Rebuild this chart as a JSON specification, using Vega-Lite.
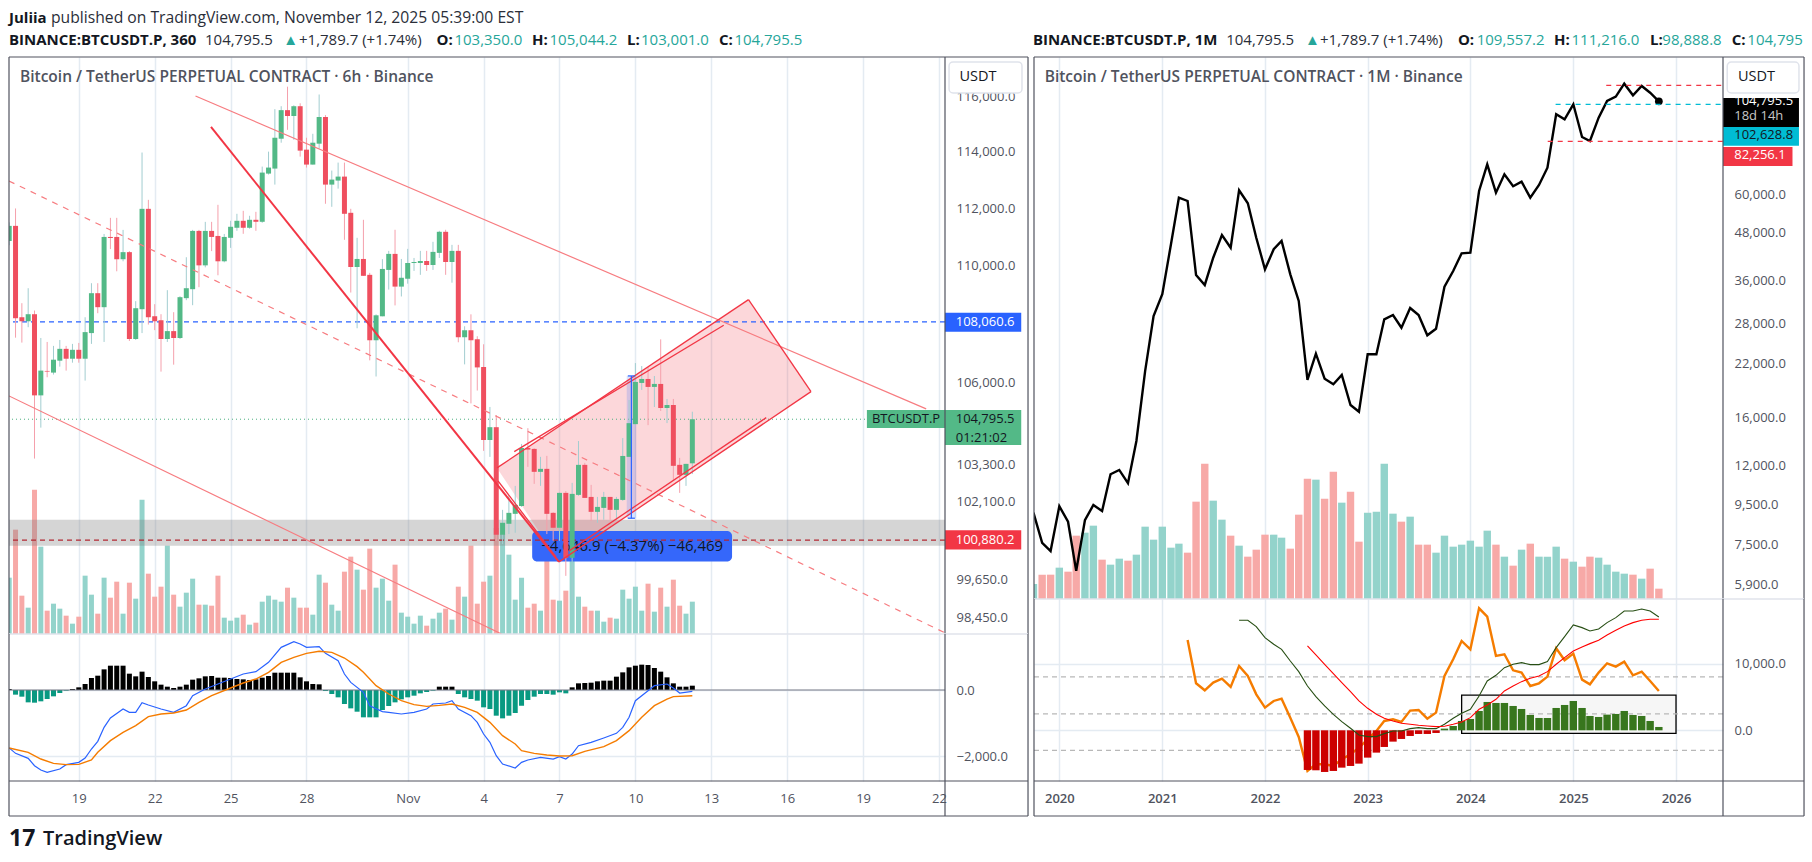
{
"$schema":"https://vega.github.io/schema/vega-lite/v6.json",
"background":"white",
"padding":0,
"bounds":"flush",
"spacing":1025,
"config":{"view":{"stroke":null},"font":"Open Sans","text":{"font":"Open Sans"},
"axis":{"domain":false,"ticks":false,"title":null,"gridColor":"#e4ebf2","gridWidth":1.5,"labelColor":"#50535e","labelFontSize":13,"labelOverlap":false,"labelBound":false,"labelFlush":false,"labelPadding":11}},
"datasets":{
"candles":[
{"t":"2025-10-16T06:00Z","o":110848,"h":111500,"l":110700,"c":111377,"v":169,"d":30,"m":-1757,"s":-1757},
{"t":"2025-10-16T12:00Z","o":111377,"h":111990,"l":107523,"c":108183,"v":313,"d":-141,"m":-1919},
{"t":"2025-10-16T18:00Z","o":108217,"h":108697,"l":107356,"c":108080,"v":115,"d":-202},
{"t":"2025-10-17T00:00Z","o":108080,"h":109211,"l":107878,"c":108320,"v":79,"d":-374,"m":-2070,"s":-1889},
{"t":"2025-10-17T06:00Z","o":108320,"h":108446,"l":103504,"c":105586,"v":433,"d":-384,"m":-2293},
{"t":"2025-10-17T12:00Z","o":105586,"h":107512,"l":104518,"c":106413,"v":262,"d":-343,"m":-2424,"s":-2091},
{"t":"2025-10-17T18:00Z","o":106402,"h":107378,"l":106190,"c":106380,"v":70,"d":-273,"m":-2495},
{"t":"2025-10-18T00:00Z","o":106346,"h":107245,"l":106280,"c":106779,"v":91,"d":-192,"s":-2222},
{"t":"2025-10-18T06:00Z","o":106746,"h":107445,"l":106546,"c":107145,"v":76,"d":-91,"m":-2394},
{"t":"2025-10-18T12:00Z","o":107145,"h":107245,"l":106413,"c":106812,"v":55,"d":-20,"m":-2262,"s":-2262},
{"t":"2025-10-18T18:00Z","o":106812,"h":107312,"l":106679,"c":107112,"v":31,"d":30},
{"t":"2025-10-19T00:00Z","o":107112,"h":107345,"l":106679,"c":106812,"v":52,"d":81,"m":-2192,"s":-2252},
{"t":"2025-10-19T06:00Z","o":106812,"h":108217,"l":106079,"c":107711,"v":175,"d":182,"m":-2060},
{"t":"2025-10-19T12:00Z","o":107678,"h":109383,"l":107312,"c":109040,"v":118,"d":364,"m":-1788,"s":-2121},
{"t":"2025-10-19T18:00Z","o":109040,"h":109383,"l":108354,"c":108560,"v":61,"d":434,"m":-1555,"s":-1889},
{"t":"2025-10-20T00:00Z","o":108560,"h":111094,"l":107378,"c":110989,"v":169,"d":626,"m":-1131},
{"t":"2025-10-20T06:00Z","o":110989,"h":111659,"l":110565,"c":110953,"v":109,"d":737,"m":-848,"s":-1535},
{"t":"2025-10-20T12:00Z","o":110989,"h":111659,"l":109794,"c":110212,"v":157,"d":737},
{"t":"2025-10-20T18:00Z","o":110212,"h":111236,"l":110141,"c":110459,"v":61,"d":737,"m":-576,"s":-1283},
{"t":"2025-10-21T00:00Z","o":110459,"h":110495,"l":107412,"c":107478,"v":154,"d":495,"m":-677},
{"t":"2025-10-21T06:00Z","o":107478,"h":108766,"l":107445,"c":108525,"v":106,"d":414,"m":-677,"s":-1081},
{"t":"2025-10-21T12:00Z","o":108491,"h":113980,"l":107678,"c":111976,"v":403,"d":556,"m":-384},
{"t":"2025-10-21T18:00Z","o":111976,"h":112294,"l":107967,"c":108217,"v":181,"d":394,"m":-455,"s":-808},
{"t":"2025-10-22T00:00Z","o":108251,"h":108663,"l":107778,"c":108080,"v":112,"d":263},
{"t":"2025-10-22T06:00Z","o":108114,"h":108320,"l":106379,"c":107478,"v":142,"d":162,"m":-576,"s":-727},
{"t":"2025-10-22T12:00Z","o":107478,"h":109143,"l":107378,"c":107745,"v":265,"d":101},
{"t":"2025-10-22T18:00Z","o":107745,"h":108389,"l":106612,"c":107512,"v":118,"d":61,"m":-677,"s":-697},
{"t":"2025-10-23T00:00Z","o":107512,"h":108937,"l":107478,"c":108903,"v":82,"d":101},
{"t":"2025-10-23T06:00Z","o":108869,"h":110282,"l":108800,"c":109211,"v":124,"d":162,"m":-475,"s":-606},
{"t":"2025-10-23T12:00Z","o":109177,"h":111236,"l":108628,"c":111200,"v":166,"d":313,"m":-172},
{"t":"2025-10-23T18:00Z","o":111200,"h":111236,"l":109246,"c":110000,"v":88,"d":354,"s":-374},
{"t":"2025-10-24T00:00Z","o":110000,"h":111518,"l":109931,"c":111200,"v":88,"d":414,"m":30},
{"t":"2025-10-24T06:00Z","o":111200,"h":111518,"l":110495,"c":110989,"v":85,"d":424,"s":-172},
{"t":"2025-10-24T12:00Z","o":111024,"h":112118,"l":109657,"c":110141,"v":175,"d":374,"m":182},
{"t":"2025-10-24T18:00Z","o":110141,"h":111094,"l":110106,"c":110989,"v":49,"d":374},
{"t":"2025-10-25T00:00Z","o":110959,"h":111555,"l":110608,"c":111345,"v":40,"d":364,"m":333,"s":61},
{"t":"2025-10-25T06:00Z","o":111310,"h":111801,"l":111204,"c":111555,"v":49,"d":333},
{"t":"2025-10-25T12:00Z","o":111555,"h":111906,"l":111099,"c":111310,"v":58,"d":323,"m":485,"s":212},
{"t":"2025-10-25T18:00Z","o":111310,"h":111731,"l":111275,"c":111590,"v":28,"d":303},
{"t":"2025-10-26T00:00Z","o":111590,"h":111871,"l":111204,"c":111520,"v":34,"d":323,"m":556,"s":333},
{"t":"2025-10-26T06:00Z","o":111520,"h":113476,"l":111485,"c":113262,"v":97,"d":374},
{"t":"2025-10-26T12:00Z","o":113226,"h":114012,"l":113190,"c":113441,"v":115,"d":424,"m":838,"s":535},
{"t":"2025-10-26T18:00Z","o":113405,"h":115548,"l":112834,"c":114512,"v":103,"d":525},
{"t":"2025-10-27T00:00Z","o":114477,"h":115655,"l":114333,"c":115512,"v":97,"d":525,"m":1293,"s":838},
{"t":"2025-10-27T06:00Z","o":115512,"h":116369,"l":114798,"c":115298,"v":139,"d":525},
{"t":"2025-10-27T12:00Z","o":115298,"h":115690,"l":114440,"c":115655,"v":109,"d":525,"m":1465,"s":990},
{"t":"2025-10-27T18:00Z","o":115655,"h":115762,"l":113833,"c":114048,"v":79,"d":384,"m":1394},
{"t":"2025-10-28T00:00Z","o":114083,"h":114512,"l":113441,"c":113548,"v":79,"d":263,"m":1293,"s":1111},
{"t":"2025-10-28T06:00Z","o":113548,"h":114655,"l":113548,"c":114333,"v":58,"d":182},
{"t":"2025-10-28T12:00Z","o":114298,"h":116083,"l":114119,"c":115262,"v":178,"d":172,"m":1313,"s":1172},
{"t":"2025-10-28T18:00Z","o":115262,"h":115333,"l":112155,"c":112834,"v":154,"d":-30,"m":1111},
{"t":"2025-10-29T00:00Z","o":112834,"h":113334,"l":112048,"c":113012,"v":88,"d":-121,"s":1141},
{"t":"2025-10-29T06:00Z","o":112977,"h":113619,"l":112691,"c":113119,"v":70,"d":-222,"m":889},
{"t":"2025-10-29T12:00Z","o":113119,"h":113619,"l":110888,"c":111801,"v":187,"d":-424,"m":485,"s":970},
{"t":"2025-10-29T18:00Z","o":111836,"h":111977,"l":109062,"c":109943,"v":232,"d":-556,"m":232},
{"t":"2025-10-30T00:00Z","o":109943,"h":110959,"l":107842,"c":110222,"v":193,"d":-657,"s":707},
{"t":"2025-10-30T06:00Z","o":110222,"h":111590,"l":109638,"c":109638,"v":133,"d":-828,"m":-71,"s":535},
{"t":"2025-10-30T12:00Z","o":109672,"h":109740,"l":106757,"c":107435,"v":256,"d":-828,"m":-475},
{"t":"2025-10-30T18:00Z","o":107435,"h":108316,"l":106215,"c":108283,"v":139,"d":-828,"s":131},
{"t":"2025-10-31T00:00Z","o":108249,"h":110215,"l":108249,"c":109876,"v":166,"d":-606,"m":-656},
{"t":"2025-10-31T06:00Z","o":109842,"h":110503,"l":109164,"c":110398,"v":100,"d":-485,"m":-677,"s":-121},
{"t":"2025-10-31T12:00Z","o":110398,"h":111240,"l":108621,"c":109266,"v":208,"d":-374},
{"t":"2025-10-31T18:00Z","o":109266,"h":110222,"l":108927,"c":109571,"v":64,"d":-283,"m":-727,"s":-323},
{"t":"2025-11-01T00:00Z","o":109537,"h":110573,"l":109367,"c":110082,"v":52,"d":-222},
{"t":"2025-11-01T06:00Z","o":110082,"h":110257,"l":109808,"c":110117,"v":31,"d":-172,"m":-677,"s":-444},
{"t":"2025-11-01T12:00Z","o":110082,"h":110503,"l":109672,"c":110152,"v":55,"d":-101},
{"t":"2025-11-01T18:00Z","o":110152,"h":110503,"l":109808,"c":110012,"v":25,"d":-61,"m":-576,"s":-495},
{"t":"2025-11-02T00:00Z","o":110012,"h":110819,"l":109842,"c":110468,"v":46,"d":-20,"m":-424},
{"t":"2025-11-02T06:00Z","o":110433,"h":111204,"l":110257,"c":111169,"v":64,"d":101,"s":-465},
{"t":"2025-11-02T12:00Z","o":111169,"h":111240,"l":109672,"c":110117,"v":76,"d":101,"m":-394},
{"t":"2025-11-02T18:00Z","o":110117,"h":110713,"l":109401,"c":110503,"v":43,"d":101,"m":-323,"s":-424},
{"t":"2025-11-03T00:00Z","o":110503,"h":110713,"l":107367,"c":107537,"v":142,"d":-121,"m":-576},
{"t":"2025-11-03T06:00Z","o":107537,"h":107910,"l":106622,"c":107774,"v":112,"d":-222,"s":-525},
{"t":"2025-11-03T12:00Z","o":107774,"h":108316,"l":105318,"c":107435,"v":265,"d":-273,"m":-778},
{"t":"2025-11-03T18:00Z","o":107469,"h":107571,"l":105747,"c":106520,"v":91,"d":-323,"m":-980,"s":-677},
{"t":"2025-11-04T00:00Z","o":106533,"h":107299,"l":103755,"c":104111,"v":157,"d":-525,"m":-1333},
{"t":"2025-11-04T06:00Z","o":104111,"h":105201,"l":103559,"c":104533,"v":175,"d":-576,"m":-1586,"s":-980},
{"t":"2025-11-04T12:00Z","o":104533,"h":104934,"l":100860,"c":101051,"v":318,"d":-778,"m":-1990},
{"t":"2025-11-04T18:00Z","o":101051,"h":101846,"l":100754,"c":101432,"v":300,"d":-859,"m":-2242,"s":-1384},
{"t":"2025-11-05T00:00Z","o":101400,"h":102327,"l":101072,"c":101750,"v":238,"d":-778},
{"t":"2025-11-05T06:00Z","o":101718,"h":102618,"l":101114,"c":102005,"v":103,"d":-697,"m":-2363,"s":-1636},
{"t":"2025-11-05T12:00Z","o":101973,"h":103982,"l":101941,"c":103852,"v":169,"d":-475,"m":-2192,"s":-1838},
{"t":"2025-11-05T18:00Z","o":103852,"h":104500,"l":103235,"c":103798,"v":79,"d":-303,"m":-2121},
{"t":"2025-11-06T00:00Z","o":103820,"h":103840,"l":102683,"c":103073,"v":91,"d":-202,"s":-1919},
{"t":"2025-11-06T06:00Z","o":103073,"h":103560,"l":102618,"c":103170,"v":70,"d":-121,"m":-2040},
{"t":"2025-11-06T12:00Z","o":103170,"h":103593,"l":101072,"c":101718,"v":255,"d":-121,"s":-1970},
{"t":"2025-11-06T18:00Z","o":101750,"h":101770,"l":100860,"c":101273,"v":103,"d":-141,"m":-2091},
{"t":"2025-11-07T00:00Z","o":101273,"h":102400,"l":100860,"c":102392,"v":100,"d":-71,"m":-2020,"s":-2000},
{"t":"2025-11-07T06:00Z","o":102392,"h":102450,"l":99750,"c":100319,"v":130,"d":-101,"m":-2091},
{"t":"2025-11-07T12:00Z","o":100319,"h":102716,"l":98950,"c":102360,"v":225,"d":81,"m":-1939,"s":-1990},
{"t":"2025-11-07T18:00Z","o":102327,"h":104078,"l":102295,"c":103300,"v":112,"d":202,"m":-1687},
{"t":"2025-11-08T00:00Z","o":103300,"h":103365,"l":102230,"c":102230,"v":82,"d":212,"s":-1858},
{"t":"2025-11-08T06:00Z","o":102262,"h":102651,"l":101496,"c":101782,"v":70,"d":222,"m":-1586},
{"t":"2025-11-08T12:00Z","o":101782,"h":102262,"l":101432,"c":101941,"v":70,"d":263},
{"t":"2025-11-08T18:00Z","o":101909,"h":102424,"l":101528,"c":102262,"v":37,"d":283,"m":-1454,"s":-1717},
{"t":"2025-11-09T00:00Z","o":102262,"h":102262,"l":101528,"c":101846,"v":49,"d":283},
{"t":"2025-11-09T06:00Z","o":101846,"h":102262,"l":101528,"c":102197,"v":46,"d":404,"m":-1313,"s":-1535},
{"t":"2025-11-09T12:00Z","o":102165,"h":104176,"l":102133,"c":103590,"v":133,"d":535,"m":-1131},
{"t":"2025-11-09T18:00Z","o":103560,"h":105433,"l":103560,"c":104666,"v":106,"d":687,"m":-828,"s":-1232},
{"t":"2025-11-10T00:00Z","o":104633,"h":106666,"l":104622,"c":106033,"v":142,"d":737,"m":-323},
{"t":"2025-11-10T06:00Z","o":106000,"h":106566,"l":105767,"c":106133,"v":70,"d":768,"s":-828},
{"t":"2025-11-10T12:00Z","o":106133,"h":106533,"l":104600,"c":105867,"v":151,"d":758,"m":-20},
{"t":"2025-11-10T18:00Z","o":105867,"h":106233,"l":105200,"c":105967,"v":67,"d":667,"m":131,"s":-475},
{"t":"2025-11-11T00:00Z","o":105967,"h":107465,"l":105068,"c":105167,"v":139,"d":556},
{"t":"2025-11-11T06:00Z","o":105167,"h":105467,"l":104668,"c":105267,"v":82,"d":384,"m":182,"s":-273},
{"t":"2025-11-11T12:00Z","o":105267,"h":105467,"l":102782,"c":103268,"v":163,"d":202,"m":61,"s":-202},
{"t":"2025-11-11T18:00Z","o":103300,"h":103528,"l":102392,"c":102976,"v":85,"d":101,"m":-91},
{"t":"2025-11-12T00:00Z","o":102976,"h":103332,"l":102618,"c":103332,"v":61,"d":101},
{"t":"2025-11-12T06:00Z","o":103350,"h":105044,"l":103001,"c":104795.5,"v":97,"d":131,"m":-40,"s":-172}
],
"monthly":[
{"t":"2019-10-01","c":9054,"v":45,"d":"u"},
{"t":"2019-11-01","c":7571,"v":73,"d":"d"},
{"t":"2019-12-01","c":7207,"v":73,"d":"d"},
{"t":"2020-01-01","c":9410,"v":94,"d":"u"},
{"t":"2020-02-01","c":8579,"v":82,"d":"d"},
{"t":"2020-03-01","c":6403,"v":190,"d":"d"},
{"t":"2020-04-01","c":8656,"v":199,"d":"u"},
{"t":"2020-05-01","c":9480,"v":220,"d":"u"},
{"t":"2020-06-01","c":9144,"v":118,"d":"d"},
{"t":"2020-07-01","c":11380,"v":103,"d":"u"},
{"t":"2020-08-01","c":11677,"v":121,"d":"u"},
{"t":"2020-09-01","c":10788,"v":115,"d":"d"},
{"t":"2020-10-01","c":13876,"v":133,"d":"u"},
{"t":"2020-11-01","c":21040,"v":217,"d":"u"},
{"t":"2020-12-01","c":29200,"v":178,"d":"u"},
{"t":"2021-01-01","c":33225,"v":217,"d":"u"},
{"t":"2021-02-01","c":44820,"v":154,"d":"u"},
{"t":"2021-03-01","c":59042,"v":166,"d":"u"},
{"t":"2021-04-01","c":57894,"v":139,"d":"d","a":13550},
{"t":"2021-05-01","c":37266,"v":292,"d":"d","a":7050},
{"t":"2021-06-01","c":35120,"v":406,"d":"d","a":6000},
{"t":"2021-07-01","c":41310,"v":295,"d":"u","a":7150},
{"t":"2021-08-01","c":47285,"v":238,"d":"u","a":7750},
{"t":"2021-09-01","c":43846,"v":190,"d":"d","a":6500},
{"t":"2021-10-01","c":61704,"v":160,"d":"u","a":9650,"g":16500},
{"t":"2021-11-01","c":57107,"v":127,"d":"d","a":8150,"g":16500},
{"t":"2021-12-01","c":46532,"v":148,"d":"d","a":5400,"g":15550},
{"t":"2022-01-01","c":38556,"v":193,"d":"d","a":3400,"g":13900},
{"t":"2022-02-01","c":43430,"v":193,"d":"u","a":4400,"g":12900},
{"t":"2022-03-01","c":45632,"v":184,"d":"u","a":4750,"g":12150},
{"t":"2022-04-01","c":37420,"v":151,"d":"d","a":1900,"g":10400},
{"t":"2022-05-01","c":31926,"v":253,"d":"d","a":-1000,"g":8800},
{"t":"2022-06-01","c":19950,"v":361,"d":"d","a":-6100,"g":6650,"r":12650,"h":-5950},
{"t":"2022-07-01","c":23326,"v":358,"d":"u","a":-5100,"g":5050,"r":11300,"h":-6000},
{"t":"2022-08-01","c":20100,"v":301,"d":"d","a":-5100,"g":3650,"r":9900,"h":-6250},
{"t":"2022-09-01","c":19442,"v":382,"d":"d","a":-5350,"g":2400,"r":8500,"h":-6100},
{"t":"2022-10-01","c":20554,"v":289,"d":"u","a":-4350,"g":1300,"r":7150,"h":-5600},
{"t":"2022-11-01","c":17190,"v":322,"d":"d","a":-3600,"g":300,"r":5800,"h":-5350},
{"t":"2022-12-01","c":16516,"v":172,"d":"d","a":-2600,"g":-700,"r":4400,"h":-5000},
{"t":"2023-01-01","c":23250,"v":259,"d":"u","a":-1350,"g":-950,"r":3300,"h":-4100},
{"t":"2023-02-01","c":23250,"v":262,"d":"u","a":-100,"g":-950,"r":2400,"h":-3350},
{"t":"2023-03-01","c":28625,"v":406,"d":"u","a":1400,"g":-500,"r":1800,"h":-2500},
{"t":"2023-04-01","c":29370,"v":256,"d":"u","a":1650,"g":-100,"r":1400,"h":-1700},
{"t":"2023-05-01","c":27228,"v":232,"d":"d","a":1250,"g":-100,"r":1050,"h":-1300},
{"t":"2023-06-01","c":30625,"v":247,"d":"u","a":2950,"g":250,"r":900,"h":-850},
{"t":"2023-07-01","c":29370,"v":163,"d":"d","a":3050,"g":400,"r":750,"h":-550},
{"t":"2023-08-01","c":26030,"v":163,"d":"d","a":1750,"g":250,"r":650,"h":-550},
{"t":"2023-09-01","c":27070,"v":139,"d":"u","a":2650,"g":250,"r":550,"h":-400},
{"t":"2023-10-01","c":34764,"v":190,"d":"u","a":8150,"g":900,"r":600,"h":250},
{"t":"2023-11-01","c":38166,"v":157,"d":"u","a":10650,"g":1800,"r":900,"h":650},
{"t":"2023-12-01","c":42410,"v":163,"d":"u","a":13400,"g":2550,"r":1250,"h":1400},
{"t":"2024-01-01","c":42556,"v":175,"d":"u","a":12150,"g":3150,"r":1900,"h":1700},
{"t":"2024-02-01","c":61446,"v":157,"d":"u","a":18300,"g":5150,"r":3150,"h":2900},
{"t":"2024-03-01","c":72030,"v":205,"d":"u","a":17050,"g":7400,"r":3800,"h":4250},
{"t":"2024-04-01","c":60827,"v":163,"d":"d","a":11150,"g":8250,"r":4650,"h":4100},
{"t":"2024-05-01","c":67868,"v":127,"d":"u","a":11400,"g":9400,"r":5900,"h":4100},
{"t":"2024-06-01","c":63192,"v":100,"d":"d","a":9000,"g":9900,"r":6650,"h":3650},
{"t":"2024-07-01","c":64943,"v":148,"d":"u","a":8650,"g":10150,"r":7300,"h":3200},
{"t":"2024-08-01","c":59042,"v":166,"d":"d","a":6650,"g":9850,"r":7800,"h":2300},
{"t":"2024-09-01","c":63678,"v":127,"d":"u","a":7050,"g":9850,"r":8150,"h":1850},
{"t":"2024-10-01","c":70587,"v":127,"d":"u","a":8050,"g":10300,"r":8800,"h":1850},
{"t":"2024-11-01","c":97000,"v":157,"d":"u","a":12300,"g":12400,"r":9900,"h":3350},
{"t":"2024-12-01","c":94150,"v":121,"d":"d","a":10500,"g":14050,"r":10900,"h":3800},
{"t":"2025-01-01","c":102950,"v":112,"d":"u","a":11500,"g":15800,"r":11900,"h":4400},
{"t":"2025-02-01","c":84740,"v":97,"d":"d","a":7600,"g":15400,"r":12500,"h":3350},
{"t":"2025-03-01","c":82746,"v":127,"d":"d","a":6900,"g":14900,"r":13000,"h":2150},
{"t":"2025-04-01","c":95060,"v":124,"d":"u","a":8650,"g":15200,"r":13500,"h":2000},
{"t":"2025-05-01","c":104990,"v":103,"d":"u","a":10050,"g":16150,"r":14300,"h":2350},
{"t":"2025-06-01","c":107718,"v":82,"d":"u","a":9550,"g":16900,"r":15000,"h":2450},
{"t":"2025-07-01","c":116380,"v":76,"d":"u","a":10300,"g":17900,"r":15650,"h":2900},
{"t":"2025-08-01","c":108618,"v":73,"d":"d","a":8250,"g":17900,"r":16150,"h":2300},
{"t":"2025-09-01","c":114800,"v":61,"d":"u","a":8800,"g":18200,"r":16500,"h":2150},
{"t":"2025-10-01","c":110310,"v":91,"d":"d","a":7400,"g":17900,"r":16650,"h":1400},
{"t":"2025-11-01","c":104795.5,"v":31,"d":"d","a":5900,"g":17000,"r":16650,"h":500}
],
"segs":[
{"s":"c","x1":"2025-10-23T14:43Z","p1":116028,"x2":"2025-11-21T11:50Z","p2":105138},
{"s":"c","x1":"2025-10-16T05:48Z","p1":105567,"x2":"2025-11-04T17:04Z","p2":97940},
{"s":"d","x1":"2025-10-16T05:48Z","p1":112963,"x2":"2025-11-22T05:41Z","p2":97975},
{"s":"t","x1":"2025-10-24T05:24Z","p1":114901,"x2":"2025-11-06T23:30Z","p2":100190},
{"s":"r","x1":"2025-11-04T12:43Z","p1":103201,"x2":"2025-11-14T11:17Z","p2":108819},
{"s":"r","x1":"2025-11-14T11:17Z","p1":108819,"x2":"2025-11-16T22:34Z","p2":105710},
{"s":"r","x1":"2025-11-16T22:34Z","p1":105710,"x2":"2025-11-06T23:30Z","p2":100190},
{"s":"r","x1":"2025-11-05T05:04Z","p1":103731,"x2":"2025-11-13T11:46Z","p2":107944},
{"s":"r","x1":"2025-11-07T09:07Z","p1":100538,"x2":"2025-11-15T04:05Z","p2":104848},
{"s":"r","x1":"2025-11-04T13:40Z","p1":102779,"x2":"2025-11-06T20:38Z","p2":100347},
{"s":"b","x1":"2025-11-09T20:10Z","p1":106235,"x2":"2025-11-09T20:10Z","p2":101578},
{"s":"b","x1":"2025-11-09T16:48Z","p1":106235,"x2":"2025-11-09T23:31Z","p2":106235},
{"s":"b","x1":"2025-11-09T16:48Z","p1":101578,"x2":"2025-11-09T23:31Z","p2":101578}
],
"pink":[
{"t":"2025-11-04T12:43Z","top":103201,"bot":103201},
{"t":"2025-11-06T23:30Z","top":104557,"bot":100190},
{"t":"2025-11-14T11:17Z","top":108819,"bot":104302},
{"t":"2025-11-16T22:34Z","top":105710,"bot":105710}
],
"tagsL":[
{"k":"blue","x1":"2025-11-22T05:41Z","x2":"2025-11-25T06:00Z","y1":108374,"y2":107726},
{"k":"red","x1":"2025-11-22T05:41Z","x2":"2025-11-25T06:00Z","y1":101196,"y2":100580},
{"k":"green","x1":"2025-11-22T05:41Z","x2":"2025-11-25T06:00Z","y1":105103,"y2":103952},
{"k":"green","x1":"2025-11-19T03:36Z","x2":"2025-11-22T05:41Z","y1":105103,"y2":104508}
],
"tagsR":[
{"k":"black","x1":"2026-06-17","x2":"2027-03-14","y1":106878,"y2":89940},
{"k":"cyan","x1":"2026-06-17","x2":"2027-03-14","y1":89940,"y2":80466},
{"k":"red","x1":"2026-06-17","x2":"2027-02-19","y1":79842,"y2":71304}
],
"textL":[
{"s":"hb","label":"Juliia","t":"2025-10-16T05:48Z","p":118914},
{"s":"h1","label":"published on TradingView.com, November 12, 2025 05:39:00 EST","t":"2025-10-17T21:38Z","p":118914},
{"s":"hb","label":"BINANCE:BTCUSDT.P, 360","t":"2025-10-16T05:48Z","p":118094},
{"s":"hn","label":"104,795.5","t":"2025-10-23T23:43Z","p":118094},
{"s":"ht","label":"▲","t":"2025-10-27T02:00Z","p":118094},
{"s":"hn","label":"+1,789.7 (+1.74%)","t":"2025-10-27T16:54Z","p":118094},
{"s":"hb","label":"O:","t":"2025-11-02T03:24Z","p":118094},
{"s":"ht","label":"103,350.0","t":"2025-11-02T20:18Z","p":118094},
{"s":"hb","label":"H:","t":"2025-11-05T21:55Z","p":118094},
{"s":"ht","label":"105,044.2","t":"2025-11-06T14:31Z","p":118094},
{"s":"hb","label":"L:","t":"2025-11-09T16:02Z","p":118094},
{"s":"ht","label":"103,001.0","t":"2025-11-10T05:18Z","p":118094},
{"s":"hb","label":"C:","t":"2025-11-13T07:18Z","p":118094},
{"s":"ht","label":"104,795.5","t":"2025-11-13T21:55Z","p":118094},
{"s":"hb","label":"BINANCE:BTCUSDT.P, 1M","t":"2025-11-25T17:11Z","p":118094},
{"s":"hn","label":"104,795.5","t":"2025-12-03T08:24Z","p":118094},
{"s":"ht","label":"▲","t":"2025-12-06T11:17Z","p":118094},
{"s":"hn","label":"+1,789.7 (+1.74%)","t":"2025-12-07T01:26Z","p":118094},
{"s":"hb","label":"O:","t":"2025-12-12T12:14Z","p":118094},
{"s":"ht","label":"109,557.2","t":"2025-12-13T06:00Z","p":118094},
{"s":"hb","label":"H:","t":"2025-12-16T07:26Z","p":118094},
{"s":"ht","label":"111,216.0","t":"2025-12-17T00:00Z","p":118094},
{"s":"hb","label":"L:","t":"2025-12-20T02:24Z","p":118094},
{"s":"ht","label":"98,888.8","t":"2025-12-20T14:10Z","p":118094},
{"s":"hb","label":"C:","t":"2025-12-23T07:55Z","p":118094},
{"s":"ht","label":"104,795","t":"2025-12-23T22:48Z","p":118094},
{"s":"lg","label":"Bitcoin / TetherUS PERPETUAL CONTRACT · 6h · Binance","t":"2025-10-16T16:13Z","p":116706},
{"s":"ax","label":"USDT","t":"2025-11-22T19:26Z","p":116706},
{"s":"wh","label":"108,060.6","t":"2025-11-22T15:50Z","p":108050},
{"s":"wh","label":"100,880.2","t":"2025-11-22T15:50Z","p":100880},
{"s":"dk","label":"104,795.5","t":"2025-11-22T15:50Z","p":104795},
{"s":"dk","label":"01:21:02","t":"2025-11-22T15:50Z","p":104180},
{"s":"dk","label":"BTCUSDT.P","t":"2025-11-19T08:24Z","p":104795},
{"s":"bx","label":"−4,646.9 (−4.37%) −46,469","t":"2025-11-09T21:00Z","p":100700}
],
"textR":[
{"s":"lg","label":"Bitcoin / TetherUS PERPETUAL CONTRACT · 1M · Binance","t":"2019-11-10","p":120756},
{"s":"ax","label":"USDT","t":"2026-08-09","p":120756},
{"s":"wh","label":"104,795.5","t":"2026-07-27","p":104990},
{"s":"gr","label":"18d 14h","t":"2026-07-27","p":96018},
{"s":"dk","label":"102,628.8","t":"2026-07-27","p":85500},
{"s":"wh","label":"82,256.1","t":"2026-07-27","p":76130}
]
},
"hconcat":[
{"spacing":0,"bounds":"flush","vconcat":[
{"width":936,"height":577,
"resolve":{"scale":{"y":"independent"},"axis":{"y":"independent"}},
"layer":[
{"data":{"name":"candles"},"mark":{"type":"bar","size":5,"clip":true},
"encoding":{
"x":{"field":"t","type":"temporal","scale":{"type":"utc","padding":0,"domain":["2025-10-16T05:48:00Z","2025-11-22T05:41:00Z"]},"axis":{"title":null,"labels":false,"values":["2025-10-19T00:00:00Z","2025-10-22T00:00:00Z","2025-10-25T00:00:00Z","2025-10-28T00:00:00Z","2025-11-01T00:00:00Z","2025-11-04T00:00:00Z","2025-11-07T00:00:00Z","2025-11-10T00:00:00Z","2025-11-13T00:00:00Z","2025-11-16T00:00:00Z","2025-11-19T00:00:00Z","2025-11-22T00:00:00Z"]}},
"y":{"field":"v","type":"quantitative","scale":{"domain":[0,1731],"nice":false},"axis":null},
"color":{"condition":{"test":"datum.c>=datum.o","value":"#93d3cb"},"value":"#f7a9a7"}}},
{"layer":[
{"data":{"values":[{"x1":"2025-10-16T05:48Z","x2":"2025-11-22T05:41Z","y1":101527,"y2":100700}]},"mark":{"type":"rect","color":"#808080","opacity":0.33},
"encoding":{"x":{"field":"x1","type":"temporal"},"x2":{"field":"x2"},
"y":{"field":"y1","type":"quantitative","title":null,"scale":{"type":"log","domain":[97940,117462],"nice":false,"zero":false},"axis":{"orient":"right","title":null,"labelExpr":"(datum.value==108000||datum.value==104500||datum.value==101000)?'':format(datum.value,',.1f')","values":[98450,99650,101000,102100,103300,104500,106000,108000,110000,112000,114000,116000]}},
"y2":{"field":"y2"}}},
{"data":{"name":"pink"},"mark":{"type":"area","color":"#f23645","opacity":0.2},
"encoding":{"x":{"field":"t","type":"temporal"},"y":{"field":"top","type":"quantitative"},"y2":{"field":"bot"}}},
{"data":{"values":[{"x1":"2025-11-09T15:45Z","x2":"2025-11-10T00:43Z","y1":106235,"y2":101578}]},"mark":{"type":"rect","color":"#2962ff","opacity":0.18},
"encoding":{"x":{"field":"x1","type":"temporal"},"x2":{"field":"x2"},"y":{"field":"y1","type":"quantitative"},"y2":{"field":"y2"}}},
{"data":{"values":[{"x1":"2025-11-05T22:05Z","x2":"2025-11-13T19:41Z","y1":101173,"y2":100200}]},"mark":{"type":"rect","color":"#3567fa","cornerRadius":5},
"encoding":{"x":{"field":"x1","type":"temporal"},"x2":{"field":"x2"},"y":{"field":"y1","type":"quantitative"},"y2":{"field":"y2"}}},
{"data":{"name":"textL"},"transform":[{"filter":"datum.s=='bx'"}],"mark":{"type":"text","align":"center","baseline":"middle","fontSize":15,"color":"#131722"},
"encoding":{"x":{"field":"t","type":"temporal"},"y":{"field":"p","type":"quantitative"},"text":{"field":"label"}}},
{"data":{"values":[{"p":108060.6}]},"mark":{"type":"rule","color":"#2962ff","strokeDash":[5,4],"strokeWidth":1.2},"encoding":{"y":{"field":"p","type":"quantitative"}}},
{"data":{"values":[{"p":100880.2}]},"mark":{"type":"rule","color":"#b22833","strokeDash":[5,4],"strokeWidth":1.2},"encoding":{"y":{"field":"p","type":"quantitative"}}},
{"data":{"values":[{"p":104795.5}]},"mark":{"type":"rule","color":"#4caf80","strokeDash":[1,3],"strokeWidth":1},"encoding":{"y":{"field":"p","type":"quantitative"}}},
{"data":{"name":"candles"},"mark":{"type":"rule","strokeWidth":1,"clip":true},
"encoding":{"x":{"field":"t","type":"temporal"},"y":{"field":"l","type":"quantitative"},"y2":{"field":"h"},
"color":{"condition":{"test":"datum.c>=datum.o","value":"#a2cdd0"},"value":"#f5a0ac"}}},
{"data":{"name":"candles"},"mark":{"type":"bar","size":5,"clip":true},
"encoding":{"x":{"field":"t","type":"temporal"},"y":{"field":"o","type":"quantitative"},"y2":{"field":"c"},
"color":{"condition":{"test":"datum.c>=datum.o","value":"#53b987"},"value":"#ef4f5f"}}},
{"data":{"name":"segs"},"transform":[{"filter":"datum.s=='c'"}],"mark":{"type":"rule","color":"#f77c80","strokeWidth":1.2,"clip":true},
"encoding":{"x":{"field":"x1","type":"temporal"},"x2":{"field":"x2"},"y":{"field":"p1","type":"quantitative"},"y2":{"field":"p2"}}},
{"data":{"name":"segs"},"transform":[{"filter":"datum.s=='d'"}],"mark":{"type":"rule","color":"#f77c80","strokeWidth":1.2,"strokeDash":[6,6],"clip":true},
"encoding":{"x":{"field":"x1","type":"temporal"},"x2":{"field":"x2"},"y":{"field":"p1","type":"quantitative"},"y2":{"field":"p2"}}},
{"data":{"name":"segs"},"transform":[{"filter":"datum.s=='t'"}],"mark":{"type":"rule","color":"#f23645","strokeWidth":2,"clip":true},
"encoding":{"x":{"field":"x1","type":"temporal"},"x2":{"field":"x2"},"y":{"field":"p1","type":"quantitative"},"y2":{"field":"p2"}}},
{"data":{"name":"segs"},"transform":[{"filter":"datum.s=='r'"}],"mark":{"type":"rule","color":"#f23645","strokeWidth":1.3,"clip":true},
"encoding":{"x":{"field":"x1","type":"temporal"},"x2":{"field":"x2"},"y":{"field":"p1","type":"quantitative"},"y2":{"field":"p2"}}},
{"data":{"name":"segs"},"transform":[{"filter":"datum.s=='b'"}],"mark":{"type":"rule","color":"#2962ff","strokeWidth":1.2,"clip":true},
"encoding":{"x":{"field":"x1","type":"temporal"},"x2":{"field":"x2"},"y":{"field":"p1","type":"quantitative"},"y2":{"field":"p2"}}},
{"data":{"values":[{"x1":"2025-11-22T09:32Z","x2":"2025-11-25T06:43Z","y1":117278,"y2":116138}]},"mark":{"type":"rect","fill":"white","stroke":"#e0e3eb","strokeWidth":1.5,"cornerRadius":4},
"encoding":{"x":{"field":"x1","type":"temporal"},"x2":{"field":"x2"},"y":{"field":"y1","type":"quantitative"},"y2":{"field":"y2"}}},
{"data":{"name":"tagsL"},"mark":{"type":"rect"},
"encoding":{"x":{"field":"x1","type":"temporal"},"x2":{"field":"x2"},"y":{"field":"y1","type":"quantitative"},"y2":{"field":"y2"},
"color":{"field":"k","type":"nominal","legend":null,"scale":{"domain":["blue","red","green","black","cyan"],"range":["#2962ff","#f23645","#53b987","#000000","#00bcd4"]}}}},
{"data":{"name":"textL"},"transform":[{"filter":"datum.s=='hb'"}],"mark":{"type":"text","align":"left","baseline":"middle","fontSize":15,"fontWeight":"bold","color":"#131722"},
"encoding":{"x":{"field":"t","type":"temporal"},"y":{"field":"p","type":"quantitative"},"text":{"field":"label"}}},
{"data":{"name":"textL"},"transform":[{"filter":"datum.s=='h1'"}],"mark":{"type":"text","align":"left","baseline":"middle","fontSize":15.7,"color":"#2a2e39"},
"encoding":{"x":{"field":"t","type":"temporal"},"y":{"field":"p","type":"quantitative"},"text":{"field":"label"}}},
{"data":{"name":"textL"},"transform":[{"filter":"datum.s=='hn'"}],"mark":{"type":"text","align":"left","baseline":"middle","fontSize":15,"color":"#2a2e39"},
"encoding":{"x":{"field":"t","type":"temporal"},"y":{"field":"p","type":"quantitative"},"text":{"field":"label"}}},
{"data":{"name":"textL"},"transform":[{"filter":"datum.s=='ht'"}],"mark":{"type":"text","align":"left","baseline":"middle","fontSize":15,"color":"#26a69a"},
"encoding":{"x":{"field":"t","type":"temporal"},"y":{"field":"p","type":"quantitative"},"text":{"field":"label"}}},
{"data":{"name":"textL"},"transform":[{"filter":"datum.s=='lg'"}],"mark":{"type":"text","align":"left","baseline":"middle","fontSize":15.5,"fontWeight":600,"color":"#50535e"},
"encoding":{"x":{"field":"t","type":"temporal"},"y":{"field":"p","type":"quantitative"},"text":{"field":"label"}}},
{"data":{"name":"textL"},"transform":[{"filter":"datum.s=='ax'"}],"mark":{"type":"text","align":"left","baseline":"middle","fontSize":14.5,"color":"#131722"},
"encoding":{"x":{"field":"t","type":"temporal"},"y":{"field":"p","type":"quantitative"},"text":{"field":"label"}}},
{"data":{"name":"textL"},"transform":[{"filter":"datum.s=='dk'"}],"mark":{"type":"text","align":"left","baseline":"middle","fontSize":13,"color":"#131722"},
"encoding":{"x":{"field":"t","type":"temporal"},"y":{"field":"p","type":"quantitative"},"text":{"field":"label"}}},
{"data":{"name":"textL"},"transform":[{"filter":"datum.s=='wh'"}],"mark":{"type":"text","align":"left","baseline":"middle","fontSize":13,"color":"white"},
"encoding":{"x":{"field":"t","type":"temporal"},"y":{"field":"p","type":"quantitative"},"text":{"field":"label"}}},
{"data":{"values":[
{"x1":"2025-10-16T05:48Z","x2":"2025-11-25T12:26Z","y1":117462,"y2":117462},
{"x1":"2025-10-16T05:48Z","x2":"2025-10-16T05:48Z","y1":117462,"y2":97940},
{"x1":"2025-11-22T05:41Z","x2":"2025-11-22T05:41Z","y1":117462,"y2":97940},
{"x1":"2025-11-25T12:26Z","x2":"2025-11-25T12:26Z","y1":117462,"y2":97940}]},
"mark":{"type":"rule","color":"#50535e","strokeWidth":1.2},
"encoding":{"x":{"field":"x1","type":"temporal"},"x2":{"field":"x2"},"y":{"field":"y1","type":"quantitative"},"y2":{"field":"y2"}}},
{"data":{"values":[{"x1":"2025-10-15T22:12Z","x2":"2025-12-26T13:12Z","y1":119553,"y2":91124}]},
"mark":{"type":"rule","opacity":0,"strokeWidth":0},
"encoding":{"x":{"field":"x1","type":"temporal"},"x2":{"field":"x2"},"y":{"field":"y1","type":"quantitative"},"y2":{"field":"y2"}}}
]}
]},
{"width":936,"height":147,
"layer":[
{"data":{"name":"candles"},"mark":{"type":"bar","size":5,"clip":true},
"encoding":{
"x":{"field":"t","type":"temporal","scale":{"type":"utc","padding":0,"domain":["2025-10-16T05:48:00Z","2025-11-22T05:41:00Z"]},"axis":{"title":null,"labelExpr":"utcdate(datum.value)==1?'Nov':utcFormat(datum.value,'%-d')","values":["2025-10-19T00:00:00Z","2025-10-22T00:00:00Z","2025-10-25T00:00:00Z","2025-10-28T00:00:00Z","2025-11-01T00:00:00Z","2025-11-04T00:00:00Z","2025-11-07T00:00:00Z","2025-11-10T00:00:00Z","2025-11-13T00:00:00Z","2025-11-16T00:00:00Z","2025-11-19T00:00:00Z","2025-11-22T00:00:00Z"]}},
"y":{"field":"d","type":"quantitative","scale":{"domain":[-2757,1697],"nice":false,"zero":false},"axis":{"orient":"right","title":null,"format":",.1f","values":[-2000,0]}},
"color":{"condition":{"test":"datum.d>=0","value":"#000000"},"value":"#089981"}}},
{"data":{"values":[{"p":0}]},"mark":{"type":"rule","color":"#787b86"},"encoding":{"y":{"field":"p","type":"quantitative"}}},
{"data":{"name":"candles"},"transform":[{"filter":"datum.m!=null"}],"mark":{"type":"line","color":"#2962ff","strokeWidth":1.2,"clip":true},"encoding":{"x":{"field":"t","type":"temporal"},"y":{"field":"m","type":"quantitative"}}},
{"data":{"name":"candles"},"transform":[{"filter":"datum.s!=null"}],"mark":{"type":"line","color":"#f57c00","strokeWidth":1.4,"clip":true},"encoding":{"x":{"field":"t","type":"temporal"},"y":{"field":"s","type":"quantitative"}}},
{"data":{"values":[{"x1":"2025-10-16T05:48Z","x2":"2025-11-25T12:26Z","y1":1697,"y2":1697}]},"mark":{"type":"rule","color":"#e0e3eb","strokeWidth":1.5},
"encoding":{"x":{"field":"x1","type":"temporal"},"x2":{"field":"x2"},"y":{"field":"y1","type":"quantitative"},"y2":{"field":"y2"}}},
{"data":{"values":[
{"x1":"2025-10-16T05:48Z","x2":"2025-11-25T12:26Z","y1":-2757,"y2":-2757},
{"x1":"2025-10-16T05:48Z","x2":"2025-11-25T12:26Z","y1":-3818,"y2":-3818},
{"x1":"2025-10-16T05:48Z","x2":"2025-10-16T05:48Z","y1":1697,"y2":-3818},
{"x1":"2025-11-22T05:41Z","x2":"2025-11-22T05:41Z","y1":1697,"y2":-3818},
{"x1":"2025-11-25T12:26Z","x2":"2025-11-25T12:26Z","y1":1697,"y2":-3818}]},
"mark":{"type":"rule","color":"#50535e","strokeWidth":1.2},
"encoding":{"x":{"field":"x1","type":"temporal"},"x2":{"field":"x2"},"y":{"field":"y1","type":"quantitative"},"y2":{"field":"y2"}}},
{"data":{"values":[{"label":"TradingView","t":"2025-10-17T14:02Z","p":-4515}]},"mark":{"type":"text","align":"left","baseline":"middle","fontSize":20,"fontWeight":600,"color":"#131722"},
"encoding":{"x":{"field":"t","type":"temporal"},"y":{"field":"p","type":"quantitative"},"text":{"field":"label"}}},
{"data":{"values":[{"label":"17","t":"2025-10-16T05:48Z","p":-4515}]},"mark":{"type":"text","align":"left","baseline":"middle","fontSize":23,"fontWeight":"bold","color":"#131722"},
"encoding":{"x":{"field":"t","type":"temporal"},"y":{"field":"p","type":"quantitative"},"text":{"field":"label"}}}
]}
]},
{"spacing":0,"bounds":"flush","vconcat":[
{"width":689,"height":542,
"resolve":{"scale":{"y":"independent"},"axis":{"y":"independent"}},
"layer":[
{"data":{"name":"monthly"},"mark":{"type":"bar","size":7.4,"clip":true},
"encoding":{
"x":{"field":"t","type":"temporal","scale":{"type":"utc","padding":0,"domain":["2019-10-03T00:00:00Z","2026-06-17T00:00:00Z"]},"axis":{"title":null,"labels":false,"values":["2020-01-01T00:00:00Z","2021-01-01T00:00:00Z","2022-01-01T00:00:00Z","2023-01-01T00:00:00Z","2024-01-01T00:00:00Z","2025-01-01T00:00:00Z","2026-01-01T00:00:00Z"]}},
"y":{"field":"v","type":"quantitative","scale":{"domain":[0,1626],"nice":false},"axis":null},
"color":{"condition":{"test":"datum.d=='u'","value":"#93d3cb"},"value":"#f7a9a7"}}},
{"layer":[
{"data":{"name":"monthly"},"mark":{"type":"line","color":"#000000","strokeWidth":2.4,"clip":true},
"encoding":{"x":{"field":"t","type":"temporal"},
"y":{"field":"c","type":"quantitative","title":null,"scale":{"type":"log","domain":[5417,136420],"nice":false,"zero":false},"axis":{"orient":"right","title":null,"labelExpr":"(datum.value==80000||datum.value==100000||datum.value==130000)?'':format(datum.value,',.1f')","values":[5900,7500,9500,12000,16000,22000,28000,36000,48000,60000,80000,100000,130000]}}}},
{"data":{"values":[{"t":"2025-11-01","p":104795.5}]},"mark":{"type":"point","filled":true,"color":"#000000","size":60,"opacity":1},
"encoding":{"x":{"field":"t","type":"temporal"},"y":{"field":"p","type":"quantitative"}}},
{"data":{"values":[{"x1":"2025-04-28","x2":"2026-06-17","p":115270}]},"mark":{"type":"rule","color":"#f23645","strokeWidth":1.2,"strokeDash":[5,5]},
"encoding":{"x":{"field":"x1","type":"temporal"},"x2":{"field":"x2"},"y":{"field":"p","type":"quantitative"}}},
{"data":{"values":[{"x1":"2024-10-30","x2":"2026-06-17","p":102950}]},"mark":{"type":"rule","color":"#00bcd4","strokeWidth":1.2,"strokeDash":[5,5]},
"encoding":{"x":{"field":"x1","type":"temporal"},"x2":{"field":"x2"},"y":{"field":"p","type":"quantitative"}}},
{"data":{"values":[{"x1":"2024-10-02","x2":"2026-06-17","p":82600}]},"mark":{"type":"rule","color":"#f23645","strokeWidth":1.2,"strokeDash":[5,5]},
"encoding":{"x":{"field":"x1","type":"temporal"},"x2":{"field":"x2"},"y":{"field":"p","type":"quantitative"}}},
{"data":{"name":"tagsR"},"mark":{"type":"rect"},
"encoding":{"x":{"field":"x1","type":"temporal"},"x2":{"field":"x2"},"y":{"field":"y1","type":"quantitative"},"y2":{"field":"y2"},
"color":{"field":"k","type":"nominal","legend":null,"scale":{"domain":["blue","red","green","black","cyan"],"range":["#2962ff","#f23645","#53b987","#000000","#00bcd4"]}}}},
{"data":{"name":"textR"},"transform":[{"filter":"datum.s=='lg'"}],"mark":{"type":"text","align":"left","baseline":"middle","fontSize":15.5,"fontWeight":600,"color":"#50535e"},
"encoding":{"x":{"field":"t","type":"temporal"},"y":{"field":"p","type":"quantitative"},"text":{"field":"label"}}},
{"data":{"name":"textR"},"transform":[{"filter":"datum.s=='wh'"}],"mark":{"type":"text","align":"left","baseline":"middle","fontSize":13,"color":"white"},
"encoding":{"x":{"field":"t","type":"temporal"},"y":{"field":"p","type":"quantitative"},"text":{"field":"label"}}},
{"data":{"name":"textR"},"transform":[{"filter":"datum.s=='gr'"}],"mark":{"type":"text","align":"left","baseline":"middle","fontSize":13,"color":"#c8c8c8"},
"encoding":{"x":{"field":"t","type":"temporal"},"y":{"field":"p","type":"quantitative"},"text":{"field":"label"}}},
{"data":{"name":"textR"},"transform":[{"filter":"datum.s=='dk'"}],"mark":{"type":"text","align":"left","baseline":"middle","fontSize":13,"color":"#131722"},
"encoding":{"x":{"field":"t","type":"temporal"},"y":{"field":"p","type":"quantitative"},"text":{"field":"label"}}},
{"data":{"values":[{"x1":"2026-06-17","x2":"2027-04-01","y1":110112,"y2":106878}]},"mark":{"type":"rect","color":"white"},
"encoding":{"x":{"field":"x1","type":"temporal"},"x2":{"field":"x2"},"y":{"field":"y1","type":"quantitative"},"y2":{"field":"y2"}}},
{"data":{"values":[{"x1":"2026-07-02","x2":"2027-03-14","y1":132420,"y2":110112}]},"mark":{"type":"rect","fill":"white","stroke":"#e0e3eb","strokeWidth":1.5,"cornerRadius":4},
"encoding":{"x":{"field":"x1","type":"temporal"},"x2":{"field":"x2"},"y":{"field":"y1","type":"quantitative"},"y2":{"field":"y2"}}},
{"data":{"name":"textR"},"transform":[{"filter":"datum.s=='ax'"}],"mark":{"type":"text","align":"left","baseline":"middle","fontSize":14.5,"color":"#131722"},
"encoding":{"x":{"field":"t","type":"temporal"},"y":{"field":"p","type":"quantitative"},"text":{"field":"label"}}},
{"data":{"values":[
{"x1":"2019-10-03","x2":"2027-04-01","y1":136420,"y2":136420},
{"x1":"2019-10-03","x2":"2019-10-03","y1":136420,"y2":5417},
{"x1":"2026-06-17","x2":"2026-06-17","y1":136420,"y2":5417},
{"x1":"2027-04-01","x2":"2027-04-01","y1":136420,"y2":5417}]},
"mark":{"type":"rule","color":"#50535e","strokeWidth":1.2},
"encoding":{"x":{"field":"x1","type":"temporal"},"x2":{"field":"x2"},"y":{"field":"y1","type":"quantitative"},"y2":{"field":"y2"}}}
]}
]},
{"width":689,"height":182,
"layer":[
{"data":{"values":[{"x1":"2023-12-01","x2":"2026-01-01","y1":5280,"y2":-453}]},"mark":{"type":"rect","fill":"#f6f6f6","stroke":"#000000","strokeWidth":1.3},
"encoding":{
"x":{"field":"x1","type":"temporal","scale":{"type":"utc","padding":0,"domain":["2019-10-03T00:00:00Z","2026-06-17T00:00:00Z"]},"axis":{"title":null,"labelFontWeight":600,"format":"%Y","values":["2020-01-01T00:00:00Z","2021-01-01T00:00:00Z","2022-01-01T00:00:00Z","2023-01-01T00:00:00Z","2024-01-01T00:00:00Z","2025-01-01T00:00:00Z","2026-01-01T00:00:00Z"]}},
"x2":{"field":"x2"},
"y":{"field":"y1","type":"quantitative","scale":{"domain":[-7605,19695],"nice":false,"zero":false},"axis":{"orient":"right","title":null,"format":",.1f","values":[0,10000]}},
"y2":{"field":"y2"}}},
{"data":{"values":[{"p":8000},{"p":2450},{"p":-3000}]},"mark":{"type":"rule","color":"#b8b8b8","strokeDash":[5,4],"strokeWidth":1.2},"encoding":{"y":{"field":"p","type":"quantitative"}}},
{"data":{"name":"monthly"},"mark":{"type":"line","color":"#f57c00","strokeWidth":2.4},"encoding":{"x":{"field":"t","type":"temporal"},"y":{"field":"a","type":"quantitative"}}},
{"data":{"name":"monthly"},"mark":{"type":"bar","size":7.4},
"encoding":{"x":{"field":"t","type":"temporal"},"y":{"field":"h","type":"quantitative"},
"color":{"condition":{"test":"datum.h>=0","value":"#38761d"},"value":"#cc0000"}}},
{"data":{"name":"monthly"},"mark":{"type":"line","color":"#274e13","strokeWidth":1.1},"encoding":{"x":{"field":"t","type":"temporal"},"y":{"field":"g","type":"quantitative"}}},
{"data":{"name":"monthly"},"mark":{"type":"line","color":"#ff0000","strokeWidth":1.1},"encoding":{"x":{"field":"t","type":"temporal"},"y":{"field":"r","type":"quantitative"}}},
{"data":{"values":[{"x1":"2019-10-03","x2":"2027-04-01","y1":19695,"y2":19695}]},"mark":{"type":"rule","color":"#e0e3eb","strokeWidth":1.5},
"encoding":{"x":{"field":"x1","type":"temporal"},"x2":{"field":"x2"},"y":{"field":"y1","type":"quantitative"},"y2":{"field":"y2"}}},
{"data":{"values":[
{"x1":"2019-10-03","x2":"2027-04-01","y1":-7605,"y2":-7605},
{"x1":"2019-10-03","x2":"2027-04-01","y1":-12855,"y2":-12855},
{"x1":"2019-10-03","x2":"2019-10-03","y1":19695,"y2":-12855},
{"x1":"2026-06-17","x2":"2026-06-17","y1":19695,"y2":-12855},
{"x1":"2027-04-01","x2":"2027-04-01","y1":19695,"y2":-12855}]},
"mark":{"type":"rule","color":"#50535e","strokeWidth":1.2},
"encoding":{"x":{"field":"x1","type":"temporal"},"x2":{"field":"x2"},"y":{"field":"y1","type":"quantitative"},"y2":{"field":"y2"}}}
]}
]}
]
}
